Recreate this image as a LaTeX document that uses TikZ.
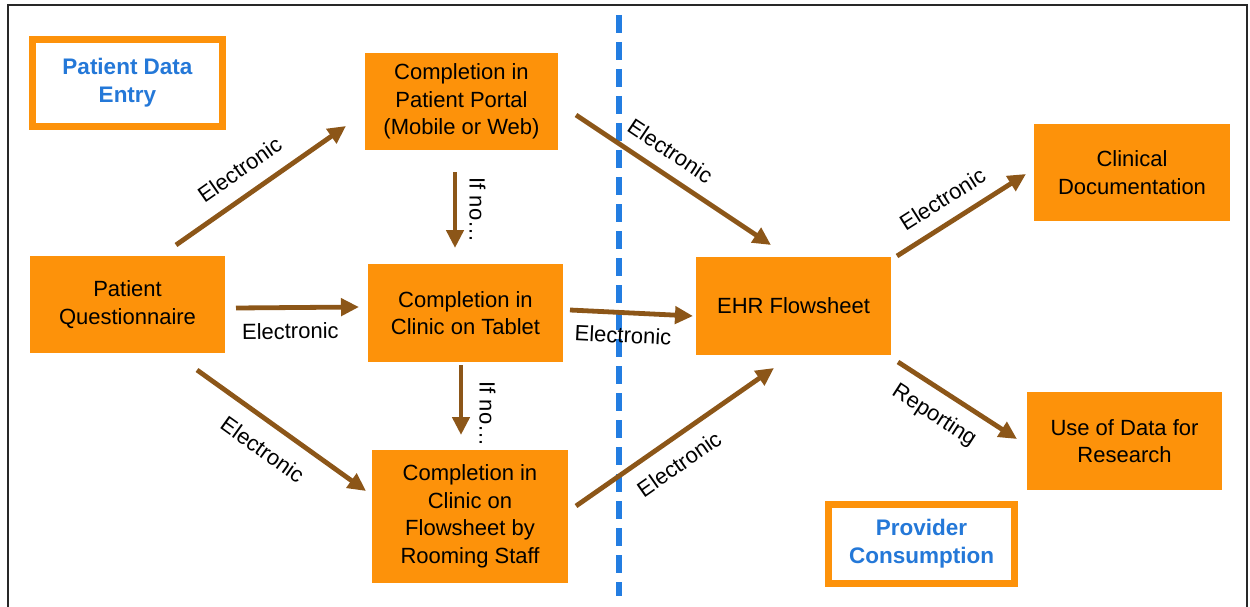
\documentclass[tikz,border=0pt]{standalone}
\usepackage{fontspec}
\setmainfont{Liberation Sans}
\usetikzlibrary{arrows.meta}
\definecolor{boxorange}{RGB}{253,146,10}
\definecolor{flowbrown}{RGB}{140,86,24}
\definecolor{dividerblue}{RGB}{35,125,225}
\definecolor{headblue}{RGB}{36,120,216}
\definecolor{framegray}{RGB}{40,40,40}
\begin{document}
\begin{tikzpicture}[x=1pt,y=-1pt,
  stepbox/.style={fill=boxorange, inner sep=0pt, align=center,
    minimum width=195pt, minimum height=98pt,
    font=\fontsize{22}{27.5}\selectfont},
  phasebox/.style={draw=boxorange, line width=7pt, fill=white, inner sep=0pt,
    align=center, text=headblue,
    font=\bfseries\fontsize{22.5}{28}\selectfont},
  flow/.style={draw=flowbrown, line width=4.8pt,
    -{Triangle[length=18pt,width=17pt]}},
  lbl/.style={font=\fontsize{22}{26}\selectfont, sloped, inner sep=2pt}
]
\useasboundingbox (0,0) rectangle (1250,607);

% outer frame (open at the bottom)
\draw[framegray, line width=1.5pt] (8,612) -- (8,5) -- (1247,5) -- (1247,612);

% divider between data entry and provider side
\draw[dividerblue, line width=5.5pt, dash pattern=on 18pt off 9pt] (619,15) -- (619,596);

% phase headings
\node[phasebox, minimum width=190pt, minimum height=87pt] (entry) at (127.5,83) {Patient Data\\Entry};
\node[phasebox, minimum width=186pt, minimum height=79pt] (consume) at (921.5,544) {Provider\\Consumption};

% process boxes
\node[stepbox, minimum width=193pt, minimum height=97pt] (portal) at (461.5,101.5) {Completion in\\Patient Portal\\(Mobile or Web)};
\node[stepbox, minimum height=97pt] (quest) at (127.5,304.5) {Patient\\Questionnaire};
\node[stepbox] (tablet) at (465.5,313) {Completion in\\Clinic on Tablet};
\node[stepbox, minimum width=196pt, minimum height=133pt] (rooming) at (470,516.5) {Completion in\\Clinic on\\Flowsheet by\\Rooming Staff};
\node[stepbox] (ehr) at (793.5,306) {EHR Flowsheet};
\node[stepbox, minimum width=196pt, minimum height=97pt] (clindoc) at (1132,172.5) {Clinical\\Documentation};
\node[stepbox] (research) at (1124.5,441) {Use of Data for\\Research};

% connector end points
\coordinate (qp1) at (176,245);   \coordinate (qp2) at (346,126);
\coordinate (qt1) at (236,308);   \coordinate (qt2) at (359,307);
\coordinate (qr1) at (197,370);   \coordinate (qr2) at (366,491);
\coordinate (pt1) at (455,172);   \coordinate (pt2) at (455,248);
\coordinate (tr1) at (461,365);   \coordinate (tr2) at (461,435);
\coordinate (pe1) at (576,115);   \coordinate (pe2) at (771,245);
\coordinate (te1) at (570,310);   \coordinate (te2) at (693,316);
\coordinate (re1) at (576,506);   \coordinate (re2) at (774,368);
\coordinate (ec1) at (897,256);   \coordinate (ec2) at (1026,174);
\coordinate (er1) at (898,362);   \coordinate (er2) at (1017,439);

% connectors
\draw[flow] (qp1) -- node[lbl, pos=0.46, above=13pt] {Electronic} (qp2);
\draw[flow] (qt1) -- node[lbl, pos=0.44, below=11pt] {Electronic} (qt2);
\draw[flow] (qr1) -- node[lbl, pos=0.48, below=14pt] {Electronic} (qr2);
\draw[flow] (pt1) -- node[lbl, pos=0.5, above=10pt] {If no…} (pt2);
\draw[flow] (tr1) -- node[lbl, pos=0.7, above=14pt] {If no…} (tr2);
\draw[flow] (pe1) -- node[lbl, pos=0.42, above=10pt] {Electronic} (pe2);
\draw[flow] (te1) -- node[lbl, pos=0.44, below=10pt] {Electronic} (te2);
\draw[flow] (re1) -- node[lbl, pos=0.45, below=12pt] {Electronic} (re2);
\draw[flow] (ec1) -- node[lbl, pos=0.45, above=11pt] {Electronic} (ec2);
\draw[flow] (er1) -- node[lbl, pos=0.42, below=11pt] {Reporting} (er2);
\end{tikzpicture}
\end{document}
